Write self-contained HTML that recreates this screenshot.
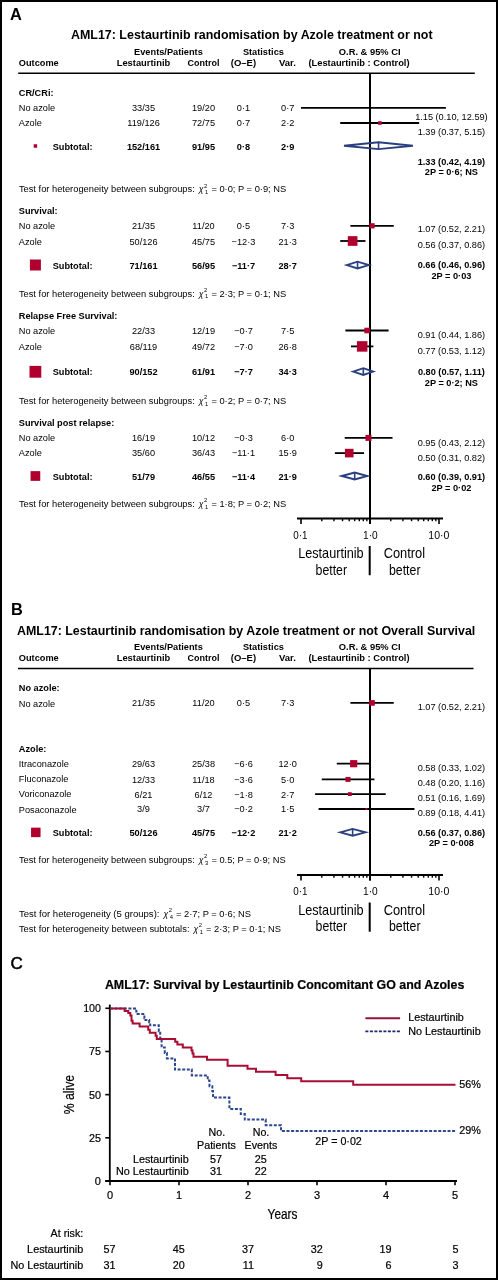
<!DOCTYPE html>
<html><head><meta charset="utf-8"><style>
html,body{margin:0;padding:0;background:#fff;}
body{width:498px;height:1280px;overflow:hidden;}
svg{display:block;font-family:"Liberation Sans",sans-serif;filter:contrast(1);}
.c text{stroke:#000;stroke-width:0.2px;}
</style></head><body>
<svg width="498" height="1280" viewBox="0 0 498 1280">
<rect x="0" y="0" width="498" height="1280" fill="#fff"/>
<rect x="1" y="1" width="496" height="1278" fill="none" stroke="#000" stroke-width="2"/>
<text x="10.00" y="19.60" font-size="16.4" font-weight="bold">A</text>
<text x="71.00" y="38.75" font-size="12.4" font-weight="bold" textLength="361.60" lengthAdjust="spacingAndGlyphs">AML17: Lestaurtinib randomisation by Azole treatment or not</text>
<text x="134.10" y="54.60" font-size="9.3" font-weight="bold" textLength="68.70" lengthAdjust="spacingAndGlyphs">Events/Patients</text>
<text x="242.90" y="54.60" font-size="9.3" font-weight="bold" textLength="41.00" lengthAdjust="spacingAndGlyphs">Statistics</text>
<text x="338.80" y="54.60" font-size="9.3" font-weight="bold" textLength="61.80" lengthAdjust="spacingAndGlyphs">O.R. &amp; 95% CI</text>
<text x="18.80" y="65.50" font-size="9.3" font-weight="bold" textLength="39.90" lengthAdjust="spacingAndGlyphs">Outcome</text>
<text x="116.70" y="65.50" font-size="9.3" font-weight="bold" textLength="53.50" lengthAdjust="spacingAndGlyphs">Lestaurtinib</text>
<text x="187.60" y="65.50" font-size="9.3" font-weight="bold" textLength="32.00" lengthAdjust="spacingAndGlyphs">Control</text>
<text x="230.80" y="65.50" font-size="9.3" font-weight="bold" textLength="25.30" lengthAdjust="spacingAndGlyphs">(O–E)</text>
<text x="279.00" y="65.50" font-size="9.3" font-weight="bold" textLength="16.90" lengthAdjust="spacingAndGlyphs">Var.</text>
<text x="308.40" y="65.50" font-size="9.3" font-weight="bold" textLength="101.20" lengthAdjust="spacingAndGlyphs">(Lestaurtinib : Control)</text>
<line x1="18.20" y1="73.25" x2="474.80" y2="73.25" stroke="#000" stroke-width="1.7"/>
<line x1="370.00" y1="73.00" x2="370.00" y2="524.00" stroke="#000" stroke-width="2"/>
<text x="18.80" y="95.80" font-size="9.2" font-weight="bold">CR/CRi:</text>
<text x="18.80" y="111.30" font-size="9.2">No azole</text>
<text x="143.50" y="111.30" font-size="9.2" text-anchor="middle">33/35</text>
<text x="203.50" y="111.30" font-size="9.2" text-anchor="middle">19/20</text>
<text x="243.50" y="111.30" font-size="9.2" text-anchor="middle">0·1</text>
<text x="287.70" y="111.30" font-size="9.2" text-anchor="middle">0·7</text>
<line x1="301.00" y1="107.90" x2="445.90" y2="107.90" stroke="#000" stroke-width="1.8"/>
<rect x="373.79" y="107.50" width="0.80" height="0.80" fill="#b0002e"/>
<text x="451.40" y="119.70" font-size="9.2" text-anchor="middle">1.15 (0.10, 12.59)</text>
<text x="18.80" y="126.20" font-size="9.2">Azole</text>
<text x="143.50" y="126.20" font-size="9.2" text-anchor="middle">119/126</text>
<text x="203.50" y="126.20" font-size="9.2" text-anchor="middle">72/75</text>
<text x="243.50" y="126.20" font-size="9.2" text-anchor="middle">0·7</text>
<text x="287.70" y="126.20" font-size="9.2" text-anchor="middle">2·2</text>
<line x1="340.21" y1="123.00" x2="419.11" y2="123.00" stroke="#000" stroke-width="1.8"/>
<rect x="378.07" y="121.20" width="3.60" height="3.60" fill="#b0002e"/>
<text x="451.40" y="134.50" font-size="9.2" text-anchor="middle">1.39 (0.37, 5.15)</text>
<rect x="33.65" y="144.25" width="3.50" height="3.50" fill="#b0002e"/>
<text x="52.70" y="149.80" font-size="9.2" font-weight="bold">Subtotal:</text>
<text x="143.50" y="149.80" font-size="9.2" font-weight="bold" text-anchor="middle">152/161</text>
<text x="203.50" y="149.80" font-size="9.2" font-weight="bold" text-anchor="middle">91/95</text>
<text x="243.50" y="149.80" font-size="9.2" font-weight="bold" text-anchor="middle">0·8</text>
<text x="287.70" y="149.80" font-size="9.2" font-weight="bold" text-anchor="middle">2·9</text>
<polygon points="344.00,145.70 378.55,142.30 412.93,145.70 378.55,149.10" fill="none" stroke="#2a3f80" stroke-width="1.9" stroke-linejoin="miter"/>
<line x1="378.55" y1="142.30" x2="378.55" y2="149.10" stroke="#2a3f80" stroke-width="1.6"/>
<text x="451.40" y="164.70" font-size="9.2" font-weight="bold" text-anchor="middle">1.33 (0.42, 4.19)</text>
<text x="451.40" y="175.30" font-size="9.2" font-weight="bold" text-anchor="middle">2P = 0·6; NS</text>
<text x="18.90" y="192.20" font-size="9.2" textLength="175.90" lengthAdjust="spacingAndGlyphs">Test for heterogeneity between subgroups:</text>
<text x="198.80" y="192.40" font-size="8.6" font-style="italic">χ</text>
<text x="204.00" y="187.50" font-size="5.8">2</text>
<text x="205.00" y="194.10" font-size="5.8">1</text>
<text x="211.40" y="192.20" font-size="9.3">= 0·0; P = 0·9; NS</text>
<text x="18.80" y="214.30" font-size="9.2" font-weight="bold">Survival:</text>
<text x="18.80" y="229.30" font-size="9.2">No azole</text>
<text x="143.50" y="229.30" font-size="9.2" text-anchor="middle">21/35</text>
<text x="203.50" y="229.30" font-size="9.2" text-anchor="middle">11/20</text>
<text x="243.50" y="229.30" font-size="9.2" text-anchor="middle">0·5</text>
<text x="287.70" y="229.30" font-size="9.2" text-anchor="middle">7·3</text>
<line x1="350.40" y1="225.80" x2="393.76" y2="225.80" stroke="#000" stroke-width="1.8"/>
<rect x="369.43" y="223.20" width="5.20" height="5.20" fill="#b0002e"/>
<text x="451.40" y="232.40" font-size="9.2" text-anchor="middle">1.07 (0.52, 2.21)</text>
<text x="18.80" y="245.20" font-size="9.2">Azole</text>
<text x="143.50" y="245.20" font-size="9.2" text-anchor="middle">50/126</text>
<text x="203.50" y="245.20" font-size="9.2" text-anchor="middle">45/75</text>
<text x="243.50" y="245.20" font-size="9.2" text-anchor="middle">−12·3</text>
<text x="287.70" y="245.20" font-size="9.2" text-anchor="middle">21·3</text>
<line x1="340.21" y1="241.00" x2="365.48" y2="241.00" stroke="#000" stroke-width="1.8"/>
<rect x="347.77" y="236.15" width="9.70" height="9.70" fill="#b0002e"/>
<text x="451.40" y="247.70" font-size="9.2" text-anchor="middle">0.56 (0.37, 0.86)</text>
<rect x="29.90" y="259.50" width="11.00" height="11.00" fill="#b0002e"/>
<text x="52.70" y="268.80" font-size="9.2" font-weight="bold">Subtotal:</text>
<text x="143.50" y="268.80" font-size="9.2" font-weight="bold" text-anchor="middle">71/161</text>
<text x="203.50" y="268.80" font-size="9.2" font-weight="bold" text-anchor="middle">56/95</text>
<text x="243.50" y="268.80" font-size="9.2" font-weight="bold" text-anchor="middle">−11·7</text>
<text x="287.70" y="268.80" font-size="9.2" font-weight="bold" text-anchor="middle">28·7</text>
<polygon points="346.73,265.10 357.55,261.70 368.78,265.10 357.55,268.50" fill="none" stroke="#2a3f80" stroke-width="1.9" stroke-linejoin="miter"/>
<line x1="357.55" y1="261.70" x2="357.55" y2="268.50" stroke="#2a3f80" stroke-width="1.6"/>
<text x="451.40" y="268.20" font-size="9.2" font-weight="bold" text-anchor="middle">0.66 (0.46, 0.96)</text>
<text x="451.40" y="279.20" font-size="9.2" font-weight="bold" text-anchor="middle">2P = 0·03</text>
<text x="18.90" y="296.50" font-size="9.2" textLength="175.90" lengthAdjust="spacingAndGlyphs">Test for heterogeneity between subgroups:</text>
<text x="198.80" y="296.70" font-size="8.6" font-style="italic">χ</text>
<text x="204.00" y="291.80" font-size="5.8">2</text>
<text x="205.00" y="298.40" font-size="5.8">1</text>
<text x="211.40" y="296.50" font-size="9.3">= 2·3; P = 0·1; NS</text>
<text x="18.80" y="318.70" font-size="9.2" font-weight="bold">Relapse Free Survival:</text>
<text x="18.80" y="333.90" font-size="9.2">No azole</text>
<text x="143.50" y="333.90" font-size="9.2" text-anchor="middle">22/33</text>
<text x="203.50" y="333.90" font-size="9.2" text-anchor="middle">12/19</text>
<text x="243.50" y="333.90" font-size="9.2" text-anchor="middle">−0·7</text>
<text x="287.70" y="333.90" font-size="9.2" text-anchor="middle">7·5</text>
<line x1="345.40" y1="330.50" x2="388.60" y2="330.50" stroke="#000" stroke-width="1.8"/>
<rect x="364.37" y="327.70" width="5.60" height="5.60" fill="#b0002e"/>
<text x="451.40" y="338.10" font-size="9.2" text-anchor="middle">0.91 (0.44, 1.86)</text>
<text x="18.80" y="350.00" font-size="9.2">Azole</text>
<text x="143.50" y="350.00" font-size="9.2" text-anchor="middle">68/119</text>
<text x="203.50" y="350.00" font-size="9.2" text-anchor="middle">49/72</text>
<text x="243.50" y="350.00" font-size="9.2" text-anchor="middle">−7·0</text>
<text x="287.70" y="350.00" font-size="9.2" text-anchor="middle">26·8</text>
<line x1="350.98" y1="346.40" x2="373.40" y2="346.40" stroke="#000" stroke-width="1.8"/>
<rect x="356.92" y="341.15" width="10.50" height="10.50" fill="#b0002e"/>
<text x="451.40" y="353.70" font-size="9.2" text-anchor="middle">0.77 (0.53, 1.12)</text>
<rect x="29.50" y="365.90" width="11.80" height="11.80" fill="#b0002e"/>
<text x="52.70" y="374.90" font-size="9.2" font-weight="bold">Subtotal:</text>
<text x="143.50" y="374.90" font-size="9.2" font-weight="bold" text-anchor="middle">90/152</text>
<text x="203.50" y="374.90" font-size="9.2" font-weight="bold" text-anchor="middle">61/91</text>
<text x="243.50" y="374.90" font-size="9.2" font-weight="bold" text-anchor="middle">−7·7</text>
<text x="287.70" y="374.90" font-size="9.2" font-weight="bold" text-anchor="middle">34·3</text>
<polygon points="353.16,371.60 363.31,368.20 373.13,371.60 363.31,375.00" fill="none" stroke="#2a3f80" stroke-width="1.9" stroke-linejoin="miter"/>
<line x1="363.31" y1="368.20" x2="363.31" y2="375.00" stroke="#2a3f80" stroke-width="1.6"/>
<text x="451.40" y="375.20" font-size="9.2" font-weight="bold" text-anchor="middle">0.80 (0.57, 1.11)</text>
<text x="451.40" y="385.80" font-size="9.2" font-weight="bold" text-anchor="middle">2P = 0·2; NS</text>
<text x="18.90" y="403.90" font-size="9.2" textLength="175.90" lengthAdjust="spacingAndGlyphs">Test for heterogeneity between subgroups:</text>
<text x="198.80" y="404.10" font-size="8.6" font-style="italic">χ</text>
<text x="204.00" y="399.20" font-size="5.8">2</text>
<text x="205.00" y="405.80" font-size="5.8">1</text>
<text x="211.40" y="403.90" font-size="9.3">= 0·2; P = 0·7; NS</text>
<text x="18.80" y="425.80" font-size="9.2" font-weight="bold">Survival post relapse:</text>
<text x="18.80" y="441.20" font-size="9.2">No azole</text>
<text x="143.50" y="441.20" font-size="9.2" text-anchor="middle">16/19</text>
<text x="203.50" y="441.20" font-size="9.2" text-anchor="middle">10/12</text>
<text x="243.50" y="441.20" font-size="9.2" text-anchor="middle">−0·3</text>
<text x="287.70" y="441.20" font-size="9.2" text-anchor="middle">6·0</text>
<line x1="344.71" y1="437.90" x2="392.52" y2="437.90" stroke="#000" stroke-width="1.8"/>
<rect x="365.46" y="434.90" width="6.00" height="6.00" fill="#b0002e"/>
<text x="451.40" y="445.70" font-size="9.2" text-anchor="middle">0.95 (0.43, 2.12)</text>
<text x="18.80" y="455.90" font-size="9.2">Azole</text>
<text x="143.50" y="455.90" font-size="9.2" text-anchor="middle">35/60</text>
<text x="203.50" y="455.90" font-size="9.2" text-anchor="middle">36/43</text>
<text x="243.50" y="455.90" font-size="9.2" text-anchor="middle">−11·1</text>
<text x="287.70" y="455.90" font-size="9.2" text-anchor="middle">15·9</text>
<line x1="334.90" y1="453.10" x2="364.05" y2="453.10" stroke="#000" stroke-width="1.8"/>
<rect x="344.93" y="448.80" width="8.60" height="8.60" fill="#b0002e"/>
<text x="451.40" y="460.50" font-size="9.2" text-anchor="middle">0.50 (0.31, 0.82)</text>
<rect x="30.55" y="471.15" width="9.70" height="9.70" fill="#b0002e"/>
<text x="52.70" y="479.80" font-size="9.2" font-weight="bold">Subtotal:</text>
<text x="143.50" y="479.80" font-size="9.2" font-weight="bold" text-anchor="middle">51/79</text>
<text x="203.50" y="479.80" font-size="9.2" font-weight="bold" text-anchor="middle">46/55</text>
<text x="243.50" y="479.80" font-size="9.2" font-weight="bold" text-anchor="middle">−11·4</text>
<text x="287.70" y="479.80" font-size="9.2" font-weight="bold" text-anchor="middle">21·9</text>
<polygon points="341.78,476.00 354.69,472.60 367.17,476.00 354.69,479.40" fill="none" stroke="#2a3f80" stroke-width="1.9" stroke-linejoin="miter"/>
<line x1="354.69" y1="472.60" x2="354.69" y2="479.40" stroke="#2a3f80" stroke-width="1.6"/>
<text x="451.40" y="479.80" font-size="9.2" font-weight="bold" text-anchor="middle">0.60 (0.39, 0.91)</text>
<text x="451.40" y="490.60" font-size="9.2" font-weight="bold" text-anchor="middle">2P = 0·02</text>
<text x="18.90" y="507.00" font-size="9.2" textLength="175.90" lengthAdjust="spacingAndGlyphs">Test for heterogeneity between subgroups:</text>
<text x="198.80" y="507.20" font-size="8.6" font-style="italic">χ</text>
<text x="204.00" y="502.30" font-size="5.8">2</text>
<text x="205.00" y="508.90" font-size="5.8">1</text>
<text x="211.40" y="507.00" font-size="9.3">= 1·8; P = 0·2; NS</text>
<line x1="297.00" y1="518.40" x2="443.00" y2="518.40" stroke="#000" stroke-width="2"/>
<line x1="301.00" y1="518.00" x2="301.00" y2="524.00" stroke="#000" stroke-width="1.6"/>
<line x1="370.00" y1="518.00" x2="370.00" y2="524.00" stroke="#000" stroke-width="1.6"/>
<line x1="439.00" y1="518.00" x2="439.00" y2="524.00" stroke="#000" stroke-width="1.6"/>
<line x1="321.77" y1="518.00" x2="321.77" y2="521.20" stroke="#000" stroke-width="1.4"/>
<line x1="333.92" y1="518.00" x2="333.92" y2="521.20" stroke="#000" stroke-width="1.4"/>
<line x1="342.54" y1="518.00" x2="342.54" y2="521.20" stroke="#000" stroke-width="1.4"/>
<line x1="349.23" y1="518.00" x2="349.23" y2="521.20" stroke="#000" stroke-width="1.4"/>
<line x1="354.69" y1="518.00" x2="354.69" y2="521.20" stroke="#000" stroke-width="1.4"/>
<line x1="359.31" y1="518.00" x2="359.31" y2="521.20" stroke="#000" stroke-width="1.4"/>
<line x1="363.31" y1="518.00" x2="363.31" y2="521.20" stroke="#000" stroke-width="1.4"/>
<line x1="366.84" y1="518.00" x2="366.84" y2="521.20" stroke="#000" stroke-width="1.4"/>
<line x1="390.77" y1="518.00" x2="390.77" y2="521.20" stroke="#000" stroke-width="1.4"/>
<line x1="402.92" y1="518.00" x2="402.92" y2="521.20" stroke="#000" stroke-width="1.4"/>
<line x1="411.54" y1="518.00" x2="411.54" y2="521.20" stroke="#000" stroke-width="1.4"/>
<line x1="418.23" y1="518.00" x2="418.23" y2="521.20" stroke="#000" stroke-width="1.4"/>
<line x1="423.69" y1="518.00" x2="423.69" y2="521.20" stroke="#000" stroke-width="1.4"/>
<line x1="428.31" y1="518.00" x2="428.31" y2="521.20" stroke="#000" stroke-width="1.4"/>
<line x1="432.31" y1="518.00" x2="432.31" y2="521.20" stroke="#000" stroke-width="1.4"/>
<line x1="435.84" y1="518.00" x2="435.84" y2="521.20" stroke="#000" stroke-width="1.4"/>
<text x="293.30" y="538.70" font-size="11.2" textLength="14.20" lengthAdjust="spacingAndGlyphs">0·1</text>
<text x="363.00" y="538.70" font-size="11.2" textLength="14.70" lengthAdjust="spacingAndGlyphs">1·0</text>
<text x="428.30" y="538.70" font-size="11.2" textLength="21.11" lengthAdjust="spacingAndGlyphs">10·0</text>
<text x="330.90" y="558.10" font-size="14.4" text-anchor="middle" textLength="65.50" lengthAdjust="spacingAndGlyphs">Lestaurtinib</text>
<text x="331.30" y="574.60" font-size="14.4" text-anchor="middle" textLength="31.50" lengthAdjust="spacingAndGlyphs">better</text>
<text x="404.40" y="558.10" font-size="14.4" text-anchor="middle" textLength="41.50" lengthAdjust="spacingAndGlyphs">Control</text>
<text x="404.75" y="574.60" font-size="14.4" text-anchor="middle" textLength="31.50" lengthAdjust="spacingAndGlyphs">better</text>
<line x1="369.70" y1="546.00" x2="369.70" y2="575.20" stroke="#000" stroke-width="2"/>
<text x="11.00" y="614.80" font-size="16.4" font-weight="bold">B</text>
<text x="17.00" y="634.50" font-size="12.4" font-weight="bold" textLength="458.30" lengthAdjust="spacingAndGlyphs">AML17: Lestaurtinib randomisation by Azole treatment or not Overall Survival</text>
<text x="134.10" y="650.10" font-size="9.3" font-weight="bold" textLength="68.70" lengthAdjust="spacingAndGlyphs">Events/Patients</text>
<text x="242.90" y="650.10" font-size="9.3" font-weight="bold" textLength="41.00" lengthAdjust="spacingAndGlyphs">Statistics</text>
<text x="338.80" y="650.10" font-size="9.3" font-weight="bold" textLength="61.80" lengthAdjust="spacingAndGlyphs">O.R. &amp; 95% CI</text>
<text x="18.80" y="661.00" font-size="9.3" font-weight="bold" textLength="39.90" lengthAdjust="spacingAndGlyphs">Outcome</text>
<text x="116.70" y="661.00" font-size="9.3" font-weight="bold" textLength="53.50" lengthAdjust="spacingAndGlyphs">Lestaurtinib</text>
<text x="187.60" y="661.00" font-size="9.3" font-weight="bold" textLength="32.00" lengthAdjust="spacingAndGlyphs">Control</text>
<text x="230.80" y="661.00" font-size="9.3" font-weight="bold" textLength="25.30" lengthAdjust="spacingAndGlyphs">(O–E)</text>
<text x="279.00" y="661.00" font-size="9.3" font-weight="bold" textLength="16.90" lengthAdjust="spacingAndGlyphs">Var.</text>
<text x="308.40" y="661.00" font-size="9.3" font-weight="bold" textLength="101.20" lengthAdjust="spacingAndGlyphs">(Lestaurtinib : Control)</text>
<line x1="18.00" y1="668.50" x2="473.50" y2="668.50" stroke="#000" stroke-width="1.7"/>
<line x1="370.00" y1="668.30" x2="370.00" y2="880.50" stroke="#000" stroke-width="2"/>
<text x="18.80" y="690.90" font-size="9.2" font-weight="bold">No azole:</text>
<text x="18.80" y="706.50" font-size="9.2">No azole</text>
<text x="143.50" y="706.00" font-size="9.2" text-anchor="middle">21/35</text>
<text x="203.50" y="706.00" font-size="9.2" text-anchor="middle">11/20</text>
<text x="243.50" y="706.00" font-size="9.2" text-anchor="middle">0·5</text>
<text x="287.70" y="706.00" font-size="9.2" text-anchor="middle">7·3</text>
<line x1="350.40" y1="702.90" x2="393.76" y2="702.90" stroke="#000" stroke-width="1.8"/>
<rect x="369.23" y="700.10" width="5.60" height="5.60" fill="#b0002e"/>
<text x="451.40" y="710.00" font-size="9.2" text-anchor="middle">1.07 (0.52, 2.21)</text>
<text x="18.80" y="751.80" font-size="9.2" font-weight="bold">Azole:</text>
<text x="18.80" y="767.20" font-size="9.2">Itraconazole</text>
<text x="143.50" y="767.40" font-size="9.2" text-anchor="middle">29/63</text>
<text x="203.50" y="767.40" font-size="9.2" text-anchor="middle">25/38</text>
<text x="243.50" y="767.40" font-size="9.2" text-anchor="middle">−6·6</text>
<text x="287.70" y="767.40" font-size="9.2" text-anchor="middle">12·0</text>
<line x1="336.78" y1="763.70" x2="370.59" y2="763.70" stroke="#000" stroke-width="1.8"/>
<rect x="350.08" y="760.10" width="7.20" height="7.20" fill="#b0002e"/>
<text x="451.40" y="771.10" font-size="9.2" text-anchor="middle">0.58 (0.33, 1.02)</text>
<text x="18.80" y="781.90" font-size="9.2">Fluconazole</text>
<text x="143.50" y="782.50" font-size="9.2" text-anchor="middle">12/33</text>
<text x="203.50" y="782.50" font-size="9.2" text-anchor="middle">11/18</text>
<text x="243.50" y="782.50" font-size="9.2" text-anchor="middle">−3·6</text>
<text x="287.70" y="782.50" font-size="9.2" text-anchor="middle">5·0</text>
<line x1="321.77" y1="779.40" x2="374.45" y2="779.40" stroke="#000" stroke-width="1.8"/>
<rect x="345.51" y="776.90" width="5.00" height="5.00" fill="#b0002e"/>
<text x="451.40" y="786.10" font-size="9.2" text-anchor="middle">0.48 (0.20, 1.16)</text>
<text x="18.80" y="797.30" font-size="9.2">Voriconazole</text>
<text x="143.50" y="798.40" font-size="9.2" text-anchor="middle">6/21</text>
<text x="203.50" y="798.40" font-size="9.2" text-anchor="middle">6/12</text>
<text x="243.50" y="798.40" font-size="9.2" text-anchor="middle">−1·8</text>
<text x="287.70" y="798.40" font-size="9.2" text-anchor="middle">2·7</text>
<line x1="315.08" y1="794.10" x2="385.72" y2="794.10" stroke="#000" stroke-width="1.8"/>
<rect x="347.92" y="792.20" width="3.80" height="3.80" fill="#b0002e"/>
<text x="451.40" y="801.20" font-size="9.2" text-anchor="middle">0.51 (0.16, 1.69)</text>
<text x="18.80" y="812.90" font-size="9.2">Posaconazole</text>
<text x="143.50" y="812.40" font-size="9.2" text-anchor="middle">3/9</text>
<text x="203.50" y="812.40" font-size="9.2" text-anchor="middle">3/7</text>
<text x="243.50" y="812.40" font-size="9.2" text-anchor="middle">−0·2</text>
<text x="287.70" y="812.40" font-size="9.2" text-anchor="middle">1·5</text>
<line x1="318.61" y1="809.00" x2="414.47" y2="809.00" stroke="#000" stroke-width="1.8"/>
<rect x="365.51" y="808.00" width="2.00" height="2.00" fill="#b0002e"/>
<text x="451.40" y="816.20" font-size="9.2" text-anchor="middle">0.89 (0.18, 4.41)</text>
<rect x="31.05" y="827.65" width="9.50" height="9.50" fill="#b0002e"/>
<text x="52.70" y="835.80" font-size="9.2" font-weight="bold">Subtotal:</text>
<text x="143.50" y="835.70" font-size="9.2" font-weight="bold" text-anchor="middle">50/126</text>
<text x="203.50" y="835.70" font-size="9.2" font-weight="bold" text-anchor="middle">45/75</text>
<text x="243.50" y="835.70" font-size="9.2" font-weight="bold" text-anchor="middle">−12·2</text>
<text x="287.70" y="835.70" font-size="9.2" font-weight="bold" text-anchor="middle">21·2</text>
<polygon points="340.21,832.30 352.62,828.90 365.48,832.30 352.62,835.70" fill="none" stroke="#2a3f80" stroke-width="1.9" stroke-linejoin="miter"/>
<line x1="352.62" y1="828.90" x2="352.62" y2="835.70" stroke="#2a3f80" stroke-width="1.6"/>
<text x="451.40" y="835.70" font-size="9.2" font-weight="bold" text-anchor="middle">0.56 (0.37, 0.86)</text>
<text x="451.40" y="846.40" font-size="9.2" font-weight="bold" text-anchor="middle">2P = 0·008</text>
<text x="18.90" y="862.80" font-size="9.2" textLength="175.90" lengthAdjust="spacingAndGlyphs">Test for heterogeneity between subgroups:</text>
<text x="198.80" y="863.00" font-size="8.6" font-style="italic">χ</text>
<text x="204.00" y="858.10" font-size="5.8">2</text>
<text x="205.00" y="864.70" font-size="5.8">3</text>
<text x="211.40" y="862.80" font-size="9.3">= 0.5; P = 0·9; NS</text>
<line x1="297.00" y1="874.90" x2="443.00" y2="874.90" stroke="#000" stroke-width="2"/>
<line x1="301.00" y1="874.50" x2="301.00" y2="880.50" stroke="#000" stroke-width="1.6"/>
<line x1="370.00" y1="874.50" x2="370.00" y2="880.50" stroke="#000" stroke-width="1.6"/>
<line x1="439.00" y1="874.50" x2="439.00" y2="880.50" stroke="#000" stroke-width="1.6"/>
<line x1="321.77" y1="874.50" x2="321.77" y2="877.70" stroke="#000" stroke-width="1.4"/>
<line x1="333.92" y1="874.50" x2="333.92" y2="877.70" stroke="#000" stroke-width="1.4"/>
<line x1="342.54" y1="874.50" x2="342.54" y2="877.70" stroke="#000" stroke-width="1.4"/>
<line x1="349.23" y1="874.50" x2="349.23" y2="877.70" stroke="#000" stroke-width="1.4"/>
<line x1="354.69" y1="874.50" x2="354.69" y2="877.70" stroke="#000" stroke-width="1.4"/>
<line x1="359.31" y1="874.50" x2="359.31" y2="877.70" stroke="#000" stroke-width="1.4"/>
<line x1="363.31" y1="874.50" x2="363.31" y2="877.70" stroke="#000" stroke-width="1.4"/>
<line x1="366.84" y1="874.50" x2="366.84" y2="877.70" stroke="#000" stroke-width="1.4"/>
<line x1="390.77" y1="874.50" x2="390.77" y2="877.70" stroke="#000" stroke-width="1.4"/>
<line x1="402.92" y1="874.50" x2="402.92" y2="877.70" stroke="#000" stroke-width="1.4"/>
<line x1="411.54" y1="874.50" x2="411.54" y2="877.70" stroke="#000" stroke-width="1.4"/>
<line x1="418.23" y1="874.50" x2="418.23" y2="877.70" stroke="#000" stroke-width="1.4"/>
<line x1="423.69" y1="874.50" x2="423.69" y2="877.70" stroke="#000" stroke-width="1.4"/>
<line x1="428.31" y1="874.50" x2="428.31" y2="877.70" stroke="#000" stroke-width="1.4"/>
<line x1="432.31" y1="874.50" x2="432.31" y2="877.70" stroke="#000" stroke-width="1.4"/>
<line x1="435.84" y1="874.50" x2="435.84" y2="877.70" stroke="#000" stroke-width="1.4"/>
<text x="293.30" y="895.20" font-size="11.2" textLength="14.20" lengthAdjust="spacingAndGlyphs">0·1</text>
<text x="363.00" y="895.20" font-size="11.2" textLength="14.70" lengthAdjust="spacingAndGlyphs">1·0</text>
<text x="428.30" y="895.20" font-size="11.2" textLength="21.11" lengthAdjust="spacingAndGlyphs">10·0</text>
<text x="330.90" y="914.60" font-size="14.4" text-anchor="middle" textLength="65.50" lengthAdjust="spacingAndGlyphs">Lestaurtinib</text>
<text x="331.30" y="931.10" font-size="14.4" text-anchor="middle" textLength="31.50" lengthAdjust="spacingAndGlyphs">better</text>
<text x="404.40" y="914.60" font-size="14.4" text-anchor="middle" textLength="41.50" lengthAdjust="spacingAndGlyphs">Control</text>
<text x="404.75" y="931.10" font-size="14.4" text-anchor="middle" textLength="31.50" lengthAdjust="spacingAndGlyphs">better</text>
<line x1="369.70" y1="902.50" x2="369.70" y2="931.70" stroke="#000" stroke-width="2"/>
<text x="18.90" y="916.90" font-size="9.2" textLength="140.60" lengthAdjust="spacingAndGlyphs">Test for heterogeneity (5 groups):</text>
<text x="163.50" y="917.10" font-size="8.6" font-style="italic">χ</text>
<text x="168.70" y="912.20" font-size="5.8">2</text>
<text x="169.70" y="918.80" font-size="5.8">4</text>
<text x="176.10" y="916.90" font-size="9.3">= 2·7; P = 0·6; NS</text>
<text x="18.90" y="932.10" font-size="9.2" textLength="170.60" lengthAdjust="spacingAndGlyphs">Test for heterogeneity between subtotals:</text>
<text x="193.50" y="932.30" font-size="8.6" font-style="italic">χ</text>
<text x="198.70" y="927.40" font-size="5.8">2</text>
<text x="199.70" y="934.00" font-size="5.8">1</text>
<text x="206.10" y="932.10" font-size="9.3">= 2·3; P = 0·1; NS</text>
<g class="c">
<text x="10.6" y="968.7" font-size="17" style="stroke-width:0.55px">C</text>
<text x="104.90" y="988.90" font-size="12.4" font-weight="bold" textLength="359.40" lengthAdjust="spacingAndGlyphs">AML17: Survival by Lestaurtinib Concomitant GO and Azoles</text>
<line x1="109.80" y1="1004.60" x2="109.80" y2="1181.90" stroke="#000" stroke-width="1.8"/>
<line x1="105.30" y1="1181.00" x2="457.00" y2="1181.00" stroke="#000" stroke-width="1.8"/>
<line x1="105.30" y1="1181.00" x2="109.80" y2="1181.00" stroke="#000" stroke-width="1.6"/>
<text x="94.85" y="1184.85" font-size="11" textLength="6.10" lengthAdjust="spacingAndGlyphs">0</text>
<line x1="105.30" y1="1137.83" x2="109.80" y2="1137.83" stroke="#000" stroke-width="1.6"/>
<text x="88.95" y="1141.67" font-size="11" textLength="12.00" lengthAdjust="spacingAndGlyphs">25</text>
<line x1="105.30" y1="1094.65" x2="109.80" y2="1094.65" stroke="#000" stroke-width="1.6"/>
<text x="88.95" y="1098.50" font-size="11" textLength="12.00" lengthAdjust="spacingAndGlyphs">50</text>
<line x1="105.30" y1="1051.47" x2="109.80" y2="1051.47" stroke="#000" stroke-width="1.6"/>
<text x="88.95" y="1055.32" font-size="11" textLength="12.00" lengthAdjust="spacingAndGlyphs">75</text>
<line x1="105.30" y1="1008.30" x2="109.80" y2="1008.30" stroke="#000" stroke-width="1.6"/>
<text x="83.15" y="1012.15" font-size="11" textLength="17.81" lengthAdjust="spacingAndGlyphs">100</text>
<line x1="110.00" y1="1181.00" x2="110.00" y2="1185.20" stroke="#000" stroke-width="1.6"/>
<text x="110.10" y="1199.10" font-size="11" text-anchor="middle">0</text>
<line x1="179.00" y1="1181.00" x2="179.00" y2="1185.20" stroke="#000" stroke-width="1.6"/>
<text x="179.10" y="1199.10" font-size="11" text-anchor="middle">1</text>
<line x1="248.00" y1="1181.00" x2="248.00" y2="1185.20" stroke="#000" stroke-width="1.6"/>
<text x="248.10" y="1199.10" font-size="11" text-anchor="middle">2</text>
<line x1="317.00" y1="1181.00" x2="317.00" y2="1185.20" stroke="#000" stroke-width="1.6"/>
<text x="317.10" y="1199.10" font-size="11" text-anchor="middle">3</text>
<line x1="386.00" y1="1181.00" x2="386.00" y2="1185.20" stroke="#000" stroke-width="1.6"/>
<text x="386.10" y="1199.10" font-size="11" text-anchor="middle">4</text>
<line x1="455.00" y1="1181.00" x2="455.00" y2="1185.20" stroke="#000" stroke-width="1.6"/>
<text x="455.10" y="1199.10" font-size="11" text-anchor="middle">5</text>
<text x="282.50" y="1219.00" font-size="13.8" text-anchor="middle" textLength="29.80" lengthAdjust="spacingAndGlyphs">Years</text>
<text x="0" y="0" font-size="14.8" text-anchor="middle" textLength="39.5" lengthAdjust="spacingAndGlyphs" transform="translate(74.2,1094.6) rotate(-90)">% alive</text>
<line x1="365.40" y1="1018.20" x2="400.10" y2="1018.20" stroke="#8c1838" stroke-width="1.9"/>
<text x="408.20" y="1020.90" font-size="10.9" textLength="55.60" lengthAdjust="spacingAndGlyphs">Lestaurtinib</text>
<line x1="365.40" y1="1031.40" x2="400.10" y2="1031.40" stroke="#1e2868" stroke-width="1.9" stroke-dasharray="3,1.5"/>
<text x="408.20" y="1034.80" font-size="10.9" textLength="72.60" lengthAdjust="spacingAndGlyphs">No Lestaurtinib</text>
<text x="459.20" y="1088.00" font-size="10.9" textLength="21.61" lengthAdjust="spacingAndGlyphs">56%</text>
<text x="459.20" y="1133.90" font-size="10.9" textLength="21.61" lengthAdjust="spacingAndGlyphs">29%</text>
<text x="208.50" y="1136.40" font-size="10.9" textLength="16.60" lengthAdjust="spacingAndGlyphs">No.</text>
<text x="252.70" y="1136.40" font-size="10.9" textLength="16.60" lengthAdjust="spacingAndGlyphs">No.</text>
<text x="197.00" y="1149.10" font-size="10.9" textLength="38.80" lengthAdjust="spacingAndGlyphs">Patients</text>
<text x="244.60" y="1149.10" font-size="10.9" textLength="32.70" lengthAdjust="spacingAndGlyphs">Events</text>
<text x="133.00" y="1162.70" font-size="10.9" textLength="55.70" lengthAdjust="spacingAndGlyphs">Lestaurtinib</text>
<text x="216.00" y="1162.80" font-size="10.8" text-anchor="middle">57</text>
<text x="260.70" y="1162.80" font-size="10.8" text-anchor="middle">25</text>
<text x="116.00" y="1174.60" font-size="10.9" textLength="72.70" lengthAdjust="spacingAndGlyphs">No Lestaurtinib</text>
<text x="216.00" y="1175.20" font-size="10.8" text-anchor="middle">31</text>
<text x="260.70" y="1175.20" font-size="10.8" text-anchor="middle">22</text>
<text x="315.30" y="1144.60" font-size="10.9" textLength="46.50" lengthAdjust="spacingAndGlyphs">2P = 0·02</text>
<text x="50.60" y="1236.80" font-size="10.9" textLength="32.60" lengthAdjust="spacingAndGlyphs">At risk:</text>
<text x="27.10" y="1252.70" font-size="10.9" textLength="56.10" lengthAdjust="spacingAndGlyphs">Lestaurtinib</text>
<text x="10.50" y="1268.90" font-size="10.9" textLength="72.70" lengthAdjust="spacingAndGlyphs">No Lestaurtinib</text>
<text x="115.60" y="1252.50" font-size="10.8" text-anchor="end">57</text>
<text x="115.60" y="1268.60" font-size="10.8" text-anchor="end">31</text>
<text x="184.80" y="1252.50" font-size="10.8" text-anchor="end">45</text>
<text x="184.80" y="1268.60" font-size="10.8" text-anchor="end">20</text>
<text x="253.90" y="1252.50" font-size="10.8" text-anchor="end">37</text>
<text x="253.90" y="1268.60" font-size="10.8" text-anchor="end">11</text>
<text x="322.80" y="1252.50" font-size="10.8" text-anchor="end">32</text>
<text x="322.80" y="1268.60" font-size="10.8" text-anchor="end">9</text>
<text x="391.50" y="1252.50" font-size="10.8" text-anchor="end">19</text>
<text x="391.50" y="1268.60" font-size="10.8" text-anchor="end">6</text>
<text x="458.40" y="1252.50" font-size="10.8" text-anchor="end">5</text>
<text x="458.40" y="1268.60" font-size="10.8" text-anchor="end">3</text>
<polyline points="110.00,1008.40 136.30,1008.40 136.30,1011.50 137.60,1011.50 137.60,1013.90 144.40,1013.90 144.40,1018.20 145.50,1018.20 145.50,1020.00 149.20,1020.00 149.20,1022.20 150.20,1022.20 150.20,1025.30 158.80,1025.30 158.80,1031.20 160.20,1031.20 160.20,1038.30 161.60,1038.30 161.60,1047.40 164.80,1047.40 164.80,1053.00 166.90,1053.00 166.90,1058.40 175.00,1058.40 175.00,1069.60 191.80,1069.60 191.80,1075.50 207.70,1075.50 207.70,1080.50 209.50,1080.50 209.50,1086.20 212.30,1086.20 212.30,1091.00 213.00,1091.00 213.00,1097.60 229.40,1097.60 229.40,1108.90 240.80,1108.90 240.80,1114.10 244.80,1114.10 244.80,1119.60 265.70,1119.60 265.70,1125.20 281.00,1125.20 281.00,1130.90 455.50,1130.90" fill="none" stroke="#2c4690" stroke-width="2" stroke-linejoin="miter" stroke-dasharray="3,1.6"/>
<polyline points="110.00,1008.50 124.60,1008.50 124.60,1011.00 128.30,1011.00 128.30,1013.00 130.30,1013.00 130.30,1015.50 131.50,1015.50 131.50,1020.80 132.60,1020.80 132.60,1023.60 139.60,1023.60 139.60,1026.60 148.20,1026.60 148.20,1029.80 149.80,1029.80 149.80,1032.80 155.60,1032.80 155.60,1035.80 156.80,1035.80 156.80,1038.90 175.20,1038.90 175.20,1041.80 177.40,1041.80 177.40,1044.60 182.80,1044.60 182.80,1047.50 191.50,1047.50 191.50,1050.50 192.50,1050.50 192.50,1053.60 193.50,1053.60 193.50,1056.80 207.00,1056.80 207.00,1059.80 227.60,1059.80 227.60,1065.80 247.50,1065.80 247.50,1068.80 256.00,1068.80 256.00,1071.70 275.60,1071.70 275.60,1074.90 287.30,1074.90 287.30,1078.30 301.20,1078.30 301.20,1081.20 353.20,1081.20 353.20,1084.70 455.50,1084.70" fill="none" stroke="#a80e35" stroke-width="2" stroke-linejoin="miter"/>
</g>
</svg></body></html>
